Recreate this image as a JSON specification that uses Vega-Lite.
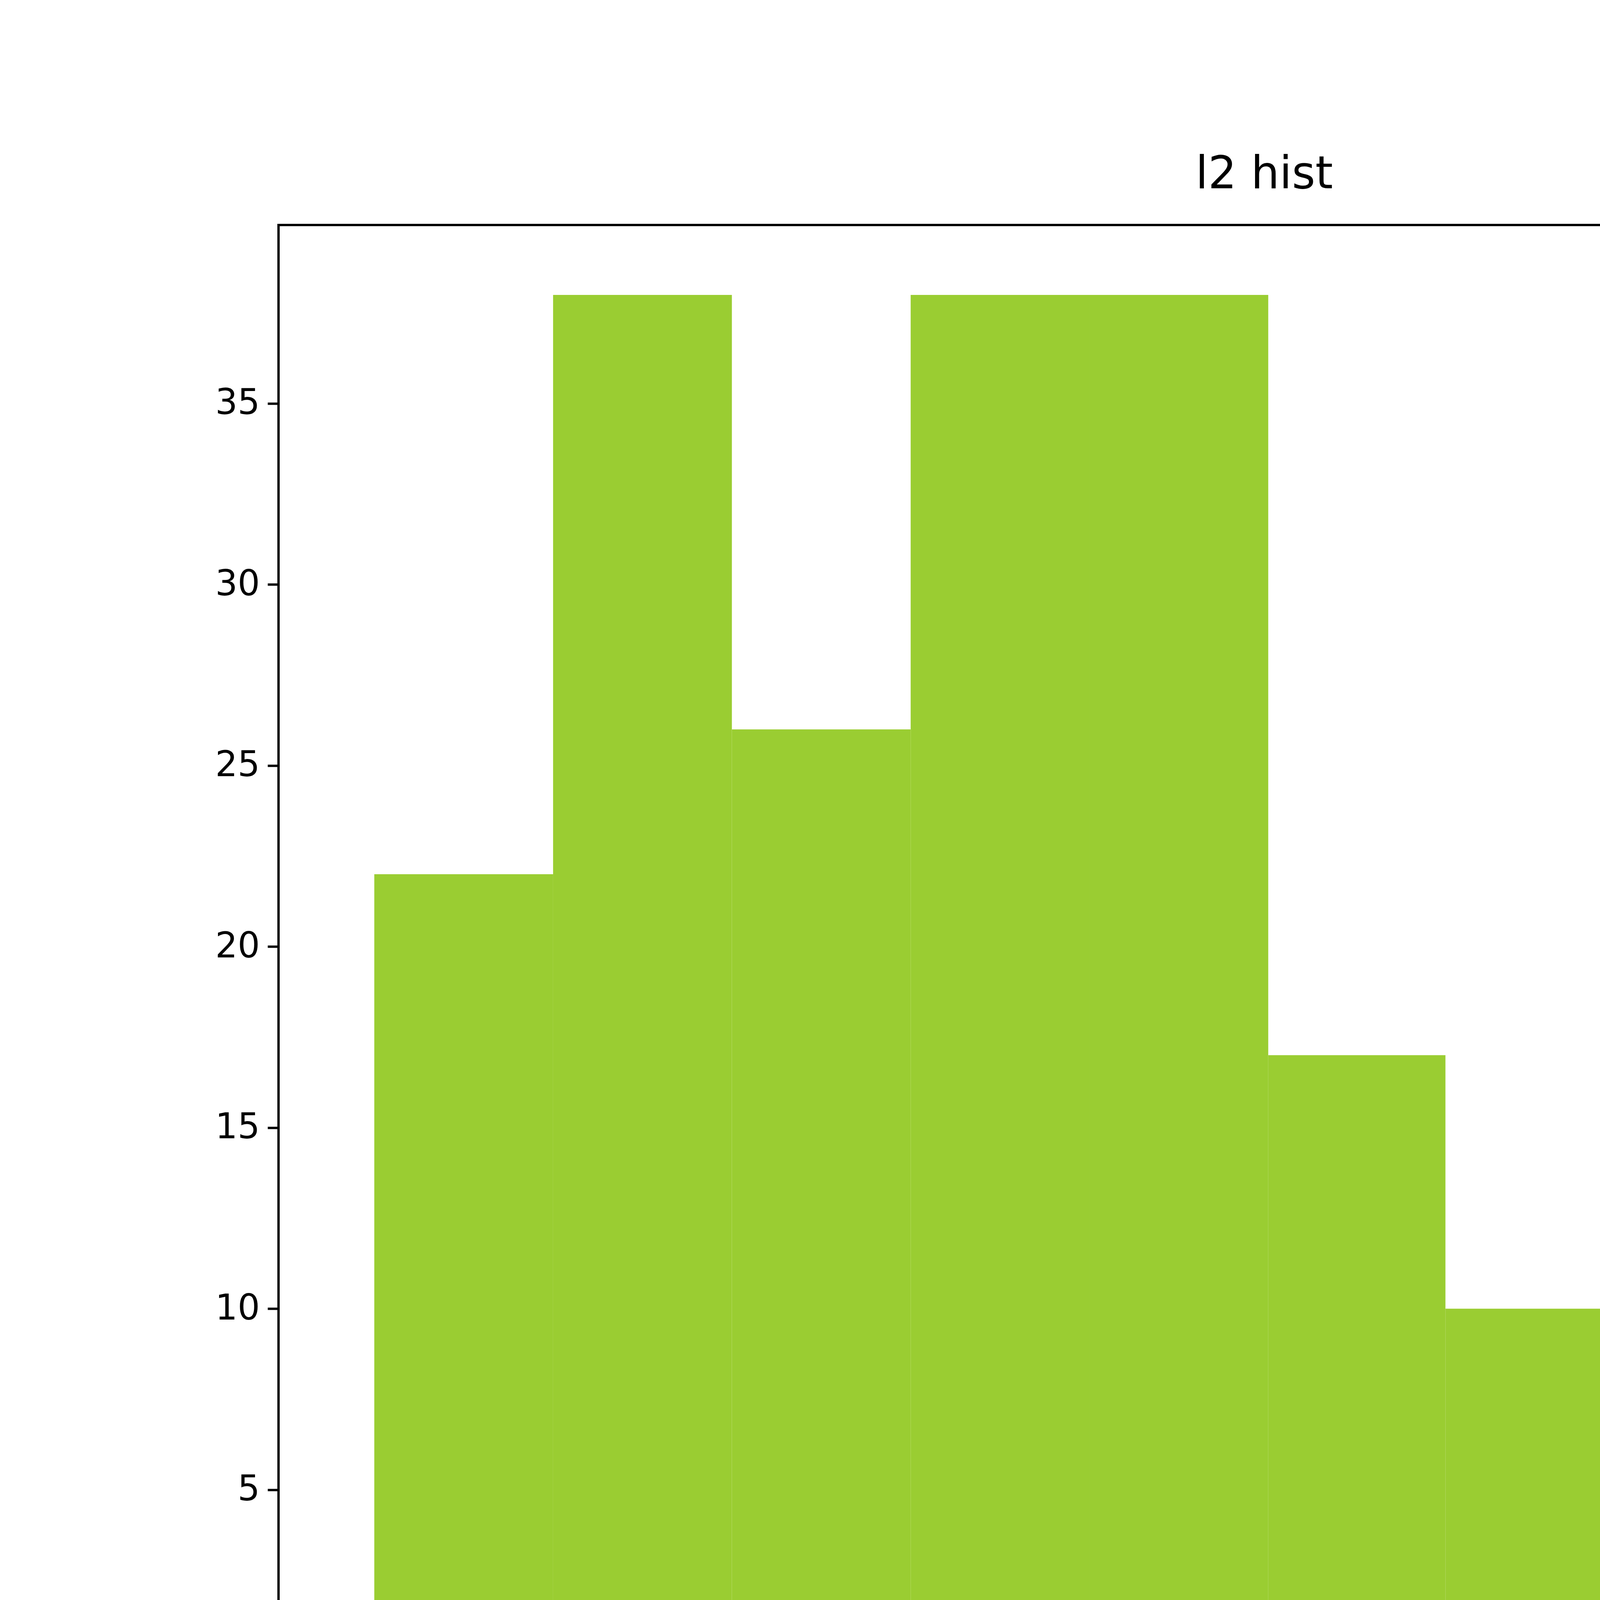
{
"$schema":"https://vega.github.io/schema/vega-lite/v6.json",
"width":6400,"height":4800,
"autosize":{"type":"fit","contains":"padding"},
"padding":{"left":550,"top":390,"right":640,"bottom":386},
"background":"white",
"title":{"text":"l2 hist","fontSize":115,"font":"DejaVu Sans","fontWeight":"normal","color":"black","offset":70},
"config":{"view":{"stroke":"black","strokeWidth":6},
"axis":{"labelFont":"DejaVu Sans","labelFontSize":90,"labelColor":"black","tickColor":"black","tickWidth":6,"tickSize":28,"domain":false,"grid":false,"title":null,"labelPadding":20}},
"data":{"values":[
{"a":5.181350,"b":5.181462,"c":22},
{"a":5.181462,"b":5.181574,"c":38},
{"a":5.181574,"b":5.181686,"c":26},
{"a":5.181686,"b":5.181798,"c":38},
{"a":5.181798,"b":5.181910,"c":38},
{"a":5.181910,"b":5.182021,"c":17},
{"a":5.182021,"b":5.182133,"c":10},
{"a":5.182133,"b":5.182245,"c":8},
{"a":5.182245,"b":5.182357,"c":2},
{"a":5.182357,"b":5.182469,"c":1}
]},
"mark":{"type":"rect","color":"#9acd32"},
"encoding":{
"x":{"field":"a","type":"quantitative","scale":{"domain":[5.18129,5.182525],"zero":false,"nice":false},"axis":{"values":[5.1814,5.1816,5.1818,5.182,5.1822,5.1824],"format":".4f"}},
"x2":{"field":"b"},
"y":{"field":"c","type":"quantitative","scale":{"domain":[0,39.93],"nice":false},"axis":{"values":[0,5,10,15,20,25,30,35]}},
"y2":{"datum":0}
}
}
